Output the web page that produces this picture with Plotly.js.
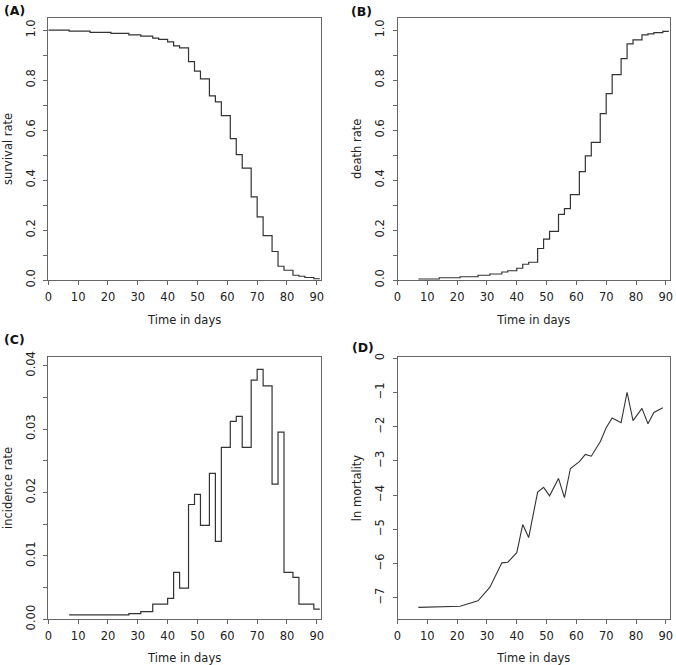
<!DOCTYPE html>
<html>
<head>
<meta charset="utf-8">
<script src="https://cdn.plot.ly/plotly-3.0.1.min.js"></script>
<style>html,body{margin:0;padding:0;background:#fff;}#chart{width:676px;height:665px;}</style>
</head>
<body>
<div id="chart"></div>
<script>
// (A) survival rate
var survDays = [0, 7, 14, 21, 27, 31, 35, 37, 40, 42, 44, 47, 49, 51, 54, 56, 58, 61, 63, 65, 68, 70, 72, 75, 77, 79, 82, 84, 86, 89, 91];
var survRate = [1.0, 0.996, 0.991, 0.987, 0.981, 0.976, 0.968, 0.963, 0.953, 0.937, 0.929, 0.874, 0.836, 0.805, 0.737, 0.713, 0.658, 0.566, 0.502, 0.448, 0.333, 0.253, 0.178, 0.114, 0.055, 0.039, 0.019, 0.015, 0.010, 0.005, 0.005];
// (B) death rate
var deathDays = [7, 14, 21, 27, 31, 35, 37, 40, 42, 44, 47, 49, 51, 54, 56, 58, 61, 63, 65, 68, 70, 72, 75, 77, 79, 82, 84, 86, 89, 91];
var deathRate = [0.004, 0.009, 0.013, 0.019, 0.024, 0.032, 0.037, 0.047, 0.063, 0.071, 0.126, 0.164, 0.195, 0.263, 0.286, 0.342, 0.434, 0.497, 0.551, 0.666, 0.746, 0.822, 0.886, 0.945, 0.961, 0.981, 0.985, 0.990, 0.995, 0.995];
// (C) incidence rate
var incDays = [7, 27, 31, 35, 40, 42, 44, 47, 49, 51, 54, 56, 58, 61, 63, 65, 68, 70, 72, 75, 77, 79, 82, 84, 89, 91];
var incRate = [0.0007, 0.0009, 0.0012, 0.0024, 0.0033, 0.0074, 0.0049, 0.0181, 0.0197, 0.0148, 0.0230, 0.0123, 0.0271, 0.0312, 0.0320, 0.0271, 0.0377, 0.0394, 0.0368, 0.0213, 0.0295, 0.0074, 0.0066, 0.0024, 0.0016, 0.0016];
// (D) ln mortality
var lnDays = [7, 21, 27, 31, 35, 37, 40, 42, 44, 47, 49, 51, 54, 56, 58, 61, 63, 65, 68, 70, 72, 75, 77, 79, 82, 84, 86, 89];
var lnMort = [-7.28, -7.25, -7.09, -6.69, -5.98, -5.96, -5.68, -4.86, -5.24, -3.91, -3.77, -4.02, -3.51, -4.07, -3.22, -3.02, -2.81, -2.86, -2.44, -2.03, -1.74, -1.88, -0.99, -1.82, -1.46, -1.91, -1.58, -1.44];

var xTitle = "Time in days";
var panelLabels = ["(A)", "(B)", "(C)", "(D)"];
var yTitles = ["survival rate", "death rate", "incidence rate", "ln mortality"];

var W = 676, H = 665;
var FONT = "DejaVu Sans, sans-serif";
var lineCol = "#333333";
var axCol = "#666666";

function dx(a, b) { return [a / W, b / W]; }
function dy(top, bottom) { return [1 - bottom / H, 1 - top / H]; }

function xax(dom, anchor) {
  return {
    domain: dom, anchor: anchor, range: [0, 91.4], autorange: false,
    tickmode: "linear", tick0: 0, dtick: 10,
    ticks: "outside", ticklen: 4, tickwidth: 1, tickcolor: axCol, ticklabelstandoff: 2,
    showline: true, linecolor: axCol, linewidth: 1, mirror: true,
    showgrid: false, zeroline: false, automargin: false,
    tickfont: {family: FONT, size: 11.5, color: "#222"},
    title: {text: xTitle, font: {family: FONT, size: 11.5, color: "#222"}, standoff: 13}
  };
}
function yax(dom, anchor, range, dtick, minor, fmt, title) {
  var o = {
    domain: dom, anchor: anchor, range: range, autorange: false,
    tickmode: "linear", tick0: 0, dtick: dtick, tickformat: fmt, tickangle: -90,
    ticks: "outside", ticklen: 4, tickwidth: 1, tickcolor: axCol, ticklabelstandoff: 4,
    showline: true, linecolor: axCol, linewidth: 1, mirror: true,
    showgrid: false, zeroline: false, automargin: false,
    tickfont: {family: FONT, size: 11.5, color: "#222"},
    title: {text: title, font: {family: FONT, size: 11.5, color: "#222"}, standoff: 8}
  };
  if (minor) o.minor = {dtick: minor, tick0: 0, ticks: "outside", ticklen: 4, tickwidth: 1, tickcolor: axCol, showgrid: false};
  return o;
}

var leftX = dx(48.3, 321), rightX = dx(397.5, 670);
var topY = dy(17.7, 280), botY = dy(356.7, 619.3);

var traces = [
  {x: survDays, y: survRate, xaxis: "x", yaxis: "y", type: "scatter", mode: "lines", line: {shape: "hv", color: lineCol, width: 1.2}},
  {x: deathDays, y: deathRate, xaxis: "x2", yaxis: "y2", type: "scatter", mode: "lines", line: {shape: "hv", color: lineCol, width: 1.2}},
  {x: incDays, y: incRate, xaxis: "x3", yaxis: "y3", type: "scatter", mode: "lines", line: {shape: "hv", color: lineCol, width: 1.2}},
  {x: lnDays, y: lnMort, xaxis: "x4", yaxis: "y4", type: "scatter", mode: "lines", line: {shape: "linear", color: lineCol, width: 1.1}}
];

var ann = [
  {text: "<b>" + panelLabels[0] + "</b>", x: 2 / W, y: 1 - 10 / H},
  {text: "<b>" + panelLabels[1] + "</b>", x: 349 / W, y: 1 - 12 / H},
  {text: "<b>" + panelLabels[2] + "</b>", x: 2 / W, y: 1 - 339 / H},
  {text: "<b>" + panelLabels[3] + "</b>", x: 350 / W, y: 1 - 347 / H}
].map(function (a) {
  return {text: a.text, x: a.x, y: a.y, xref: "paper", yref: "paper", xanchor: "left", yanchor: "middle",
    showarrow: false, font: {family: FONT, size: 12.5, color: "#111"}};
});

var layout = {
  width: W, height: H, margin: {l: 0, r: 0, t: 0, b: 0},
  paper_bgcolor: "#fff", plot_bgcolor: "#fff", showlegend: false,
  xaxis: xax(leftX, "y"),
  yaxis: yax(topY, "x", [0, 1.05], 0.2, 0.1, ".1f", yTitles[0]),
  xaxis2: xax(rightX, "y2"),
  yaxis2: yax(topY, "x2", [0, 1.05], 0.2, 0.1, ".1f", yTitles[1]),
  xaxis3: xax(leftX, "y3"),
  yaxis3: yax(botY, "x3", [0, 0.0414], 0.01, 0.005, ".2f", yTitles[2]),
  xaxis4: xax(rightX, "y4"),
  yaxis4: yax(botY, "x4", [-7.63, 0.05], 1, null, "d", yTitles[3]),
  annotations: ann
};

Plotly.newPlot("chart", traces, layout, {staticPlot: true, displayModeBar: false});
</script>
</body>
</html>
